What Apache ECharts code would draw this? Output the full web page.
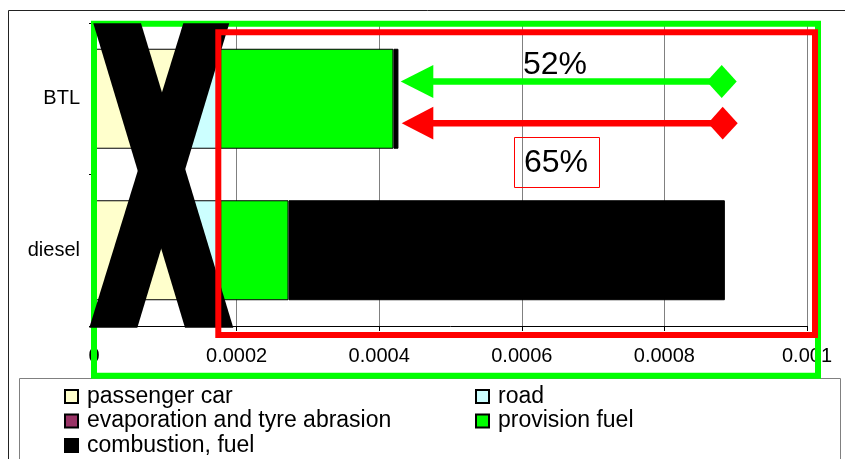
<!DOCTYPE html>
<html>
<head>
<meta charset="utf-8">
<script src="https://cdn.jsdelivr.net/npm/echarts@6/dist/echarts.min.js"></script>
<style>
  html, body { margin: 0; padding: 0; background: #fff; }
  #chart { width: 845px; height: 459px; }
</style>
</head>
<body>
<div id="chart"></div>
<script>
// ---- data ----
const categories = ['BTL', 'diesel'];
const passengerCar = [0.000125, 0.000125];
const road = [0.00005, 0.00005];
const evaporationTyre = [0.000002, 0.000002];
const provisionFuel = [0.000243, 0.0000958];
const combustionFuel = [0.000007, 0.000612];
const xTicks = [0, 0.0002, 0.0004, 0.0006, 0.0008, 0.001];

const seriesNames = ['passenger car', 'road', 'evaporation and tyre abrasion', 'provision fuel', 'combustion, fuel'];
const seriesData = [passengerCar, road, evaporationTyre, provisionFuel, combustionFuel];
const seriesColors = ['#FFFFCC', '#CCFFFF', '#993366', '#00FF00', '#000000'];

const FONT = "'Liberation Sans', Arial, sans-serif";
const chart = echarts.init(document.getElementById('chart'), null, { renderer: 'canvas' });

const series = seriesNames.map((name, i) => ({
  name: name,
  type: 'bar',
  stack: 'total',
  barWidth: '66%',
  data: seriesData[i],
  itemStyle: { color: seriesColors[i], borderColor: '#000', borderWidth: 1 },
  emphasis: { disabled: true },
  animation: false
}));

const legendText = { fontSize: 23, color: '#000', fontFamily: FONT, lineHeight: 23, padding: [0, 0, 0, 4] };

const option = {
  animation: false,
  backgroundColor: '#fff',
  grid: { left: 94, right: 38, top: 23, bottom: 133, containLabel: false },
  xAxis: {
    type: 'value',
    min: xTicks[0],
    max: xTicks[xTicks.length - 1],
    interval: xTicks[1] - xTicks[0],
    axisLine: { show: true, lineStyle: { color: '#000', width: 1 } },
    axisTick: { show: true, length: 5, lineStyle: { color: '#000' } },
    splitLine: { show: true, lineStyle: { color: '#808080', width: 1 } },
    axisLabel: {
      fontSize: 20, color: '#000', fontFamily: FONT, margin: 20,
      formatter: v => String(+v.toFixed(6))
    }
  },
  yAxis: {
    type: 'category',
    data: categories,
    inverse: true,
    axisLine: { show: true, lineStyle: { color: '#000', width: 1 } },
    axisTick: { show: true, length: 5, lineStyle: { color: '#000' } },
    axisLabel: { fontSize: 20, color: '#000', fontFamily: FONT, margin: 14 }
  },
  legend: [
    {
      data: [seriesNames[0], seriesNames[2], seriesNames[4]],
      orient: 'vertical', left: 64, top: 385, padding: 0, height: 80,
      itemWidth: 13, itemHeight: 13, itemGap: 1.5,
      icon: 'rect', selectedMode: false,
      textStyle: legendText
    },
    {
      data: [seriesNames[1], seriesNames[3]],
      orient: 'vertical', left: 475, top: 385, padding: 0, height: 80,
      itemWidth: 13, itemHeight: 13, itemGap: 1.5,
      icon: 'rect', selectedMode: false,
      textStyle: legendText
    }
  ],
  series: series,
  graphic: [
    // outer chart frame
    { type: 'rect', z: 1, silent: true, shape: { x: 8.5, y: 10.5, width: 900, height: 500 },
      style: { fill: 'none', stroke: '#222', lineWidth: 1 } },
    // legend frame
    { type: 'rect', z: 1, silent: true, shape: { x: 19.5, y: 378.5, width: 821, height: 100 },
      style: { fill: 'none', stroke: '#808080', lineWidth: 1 } },
    // green frame
    { type: 'rect', z: 100, silent: true, shape: { x: 94, y: 23.7, width: 724, height: 352 },
      style: { fill: 'none', stroke: '#00FF00', lineWidth: 6 } },
    // big X
    { type: 'polygon', z: 101, silent: true,
      shape: { points: [[93.3, 23.3], [141, 23.3], [233.3, 327.7], [185, 327.7]] },
      style: { fill: '#000' } },
    { type: 'polygon', z: 101, silent: true,
      shape: { points: [[183.3, 23.3], [229.3, 23.3], [137.3, 327.7], [89.3, 327.7]] },
      style: { fill: '#000' } },
    // red frame
    { type: 'rect', z: 102, silent: true, shape: { x: 218.3, y: 32.2, width: 596.7, height: 302.8 },
      style: { fill: 'none', stroke: '#FF0000', lineWidth: 6 } },
    // green arrow
    { type: 'line', z: 103, silent: true, shape: { x1: 425, y1: 81.6, x2: 722, y2: 81.6 },
      style: { stroke: '#00FF00', lineWidth: 6.5 } },
    { type: 'polygon', z: 103, silent: true,
      shape: { points: [[400.7, 81.6], [433.3, 65], [433.3, 98]] }, style: { fill: '#00FF00' } },
    { type: 'polygon', z: 103, silent: true,
      shape: { points: [[706.7, 81.6], [721.7, 65], [736.7, 81.6], [721.7, 98]] }, style: { fill: '#00FF00' } },
    // red arrow
    { type: 'line', z: 103, silent: true, shape: { x1: 425, y1: 123.3, x2: 722, y2: 123.3 },
      style: { stroke: '#FF0000', lineWidth: 6.5 } },
    { type: 'polygon', z: 103, silent: true,
      shape: { points: [[401.7, 123.3], [433.3, 106.7], [433.3, 139.5]] }, style: { fill: '#FF0000' } },
    { type: 'polygon', z: 103, silent: true,
      shape: { points: [[708, 123.3], [722.7, 106.7], [737.7, 123.3], [722.7, 139.5]] }, style: { fill: '#FF0000' } },
    // labels
    { type: 'text', z: 104, silent: true,
      style: { text: '52%', x: 523, y: 65, font: '32px ' + FONT, fill: '#000', verticalAlign: 'middle', align: 'left' } },
    { type: 'rect', z: 104, silent: true, shape: { x: 514.5, y: 137.5, width: 85, height: 50 },
      style: { fill: 'none', stroke: '#FF0000', lineWidth: 1 } },
    { type: 'text', z: 104, silent: true,
      style: { text: '65%', x: 524, y: 163.5, font: '32px ' + FONT, fill: '#000', verticalAlign: 'middle', align: 'left' } }
  ]
};

chart.setOption(option);
</script>
</body>
</html>
